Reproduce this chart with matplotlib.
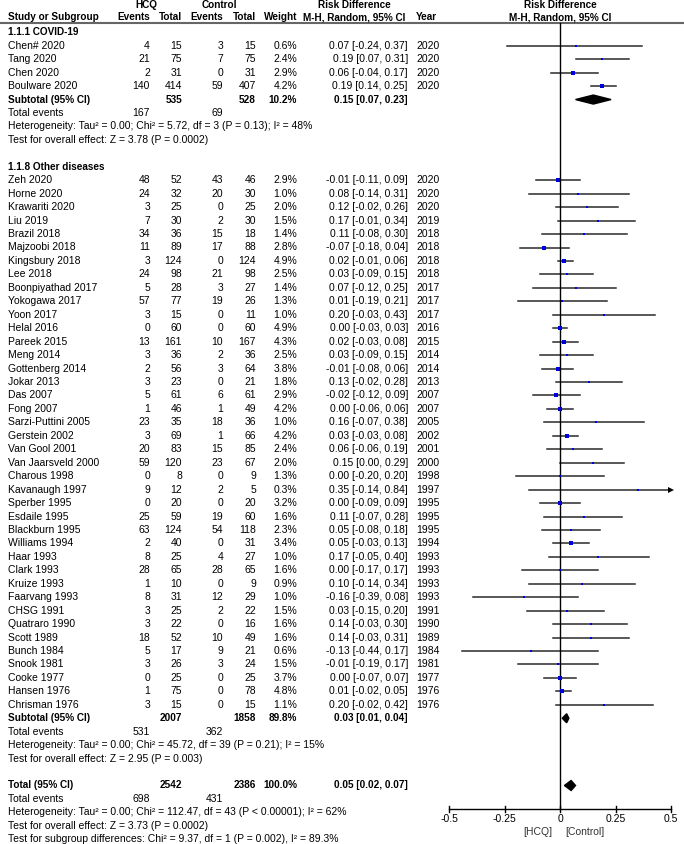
import matplotlib
matplotlib.use("Agg")
import matplotlib.pyplot as plt

plt.rcParams['font.family'] = ['Liberation Sans', 'DejaVu Sans']

# ---- data: COVID-19 subgroup
covid_names = ["Chen# 2020", "Tang 2020", "Chen 2020", "Boulware 2020"]
covid_hcq_ev = [4, 21, 2, 140]
covid_hcq_n = [15, 75, 31, 414]
covid_ctl_ev = [3, 7, 0, 59]
covid_ctl_n = [15, 75, 31, 407]
covid_weight = [0.6, 2.4, 2.9, 4.2]
covid_rd = [0.07, 0.19, 0.06, 0.19]
covid_lo = [-0.24, 0.07, -0.04, 0.14]
covid_hi = [0.37, 0.31, 0.17, 0.25]
covid_year = [2020, 2020, 2020, 2020]

# ---- data: other diseases subgroup
other_names = ["Zeh 2020", "Horne 2020", "Krawariti 2020", "Liu 2019", "Brazil 2018",
               "Majzoobi 2018", "Kingsbury 2018", "Lee 2018", "Boonpiyathad 2017",
               "Yokogawa 2017", "Yoon 2017", "Helal 2016", "Pareek 2015", "Meng 2014",
               "Gottenberg 2014", "Jokar 2013", "Das 2007", "Fong 2007",
               "Sarzi-Puttini 2005", "Gerstein 2002", "Van Gool 2001",
               "Van Jaarsveld 2000", "Charous 1998", "Kavanaugh 1997", "Sperber 1995",
               "Esdaile 1995", "Blackburn 1995", "Williams 1994", "Haar 1993",
               "Clark 1993", "Kruize 1993", "Faarvang 1993", "CHSG 1991",
               "Quatraro 1990", "Scott 1989", "Bunch 1984", "Snook 1981", "Cooke 1977",
               "Hansen 1976", "Chrisman 1976"]
other_hcq_ev = [48, 24, 3, 7, 34, 11, 3, 24, 5, 57, 3, 0, 13, 3, 2, 3, 5, 1, 23, 3, 20,
                59, 0, 9, 0, 25, 63, 2, 8, 28, 1, 8, 3, 3, 18, 5, 3, 0, 1, 3]
other_hcq_n = [52, 32, 25, 30, 36, 89, 124, 98, 28, 77, 15, 60, 161, 36, 56, 23, 61, 46,
               35, 69, 83, 120, 8, 12, 20, 59, 124, 40, 25, 65, 10, 31, 25, 22, 52, 17,
               26, 25, 75, 15]
other_ctl_ev = [43, 20, 0, 2, 15, 17, 0, 21, 3, 19, 0, 0, 10, 2, 3, 0, 6, 1, 18, 1, 15,
                23, 0, 2, 0, 19, 54, 0, 4, 28, 0, 12, 2, 0, 10, 9, 3, 0, 0, 0]
other_ctl_n = [46, 30, 25, 30, 18, 88, 124, 98, 27, 26, 11, 60, 167, 36, 64, 21, 61, 49,
               36, 66, 85, 67, 9, 5, 20, 60, 118, 31, 27, 65, 9, 29, 22, 16, 49, 21, 24,
               25, 78, 15]
other_weight = [2.9, 1.0, 2.0, 1.5, 1.4, 2.8, 4.9, 2.5, 1.4, 1.3, 1.0, 4.9, 4.3, 2.5,
                3.8, 1.8, 2.9, 4.2, 1.0, 4.2, 2.4, 2.0, 1.3, 0.3, 3.2, 1.6, 2.3, 3.4,
                1.0, 1.6, 0.9, 1.0, 1.5, 1.6, 1.6, 0.6, 1.5, 3.7, 4.8, 1.1]
other_rd = [-0.01, 0.08, 0.12, 0.17, 0.11, -0.07, 0.02, 0.03, 0.07, 0.01, 0.20, 0.00,
            0.02, 0.03, -0.01, 0.13, -0.02, 0.00, 0.16, 0.03, 0.06, 0.15, 0.00, 0.35,
            0.00, 0.11, 0.05, 0.05, 0.17, 0.00, 0.10, -0.16, 0.03, 0.14, 0.14, -0.13,
            -0.01, 0.00, 0.01, 0.20]
other_lo = [-0.11, -0.14, -0.02, -0.01, -0.08, -0.18, -0.01, -0.09, -0.12, -0.19, -0.03,
            -0.03, -0.03, -0.09, -0.08, -0.02, -0.12, -0.06, -0.07, -0.03, -0.06, 0.00,
            -0.20, -0.14, -0.09, -0.07, -0.08, -0.03, -0.05, -0.17, -0.14, -0.39, -0.15,
            -0.03, -0.03, -0.44, -0.19, -0.07, -0.02, -0.02]
other_hi = [0.09, 0.31, 0.26, 0.34, 0.30, 0.04, 0.06, 0.15, 0.25, 0.21, 0.43, 0.03, 0.08,
            0.15, 0.06, 0.28, 0.09, 0.06, 0.38, 0.08, 0.19, 0.29, 0.20, 0.84, 0.09, 0.28,
            0.18, 0.13, 0.40, 0.17, 0.34, 0.08, 0.20, 0.30, 0.31, 0.17, 0.17, 0.07, 0.05,
            0.42]
other_year = [2020, 2020, 2020, 2019, 2018, 2018, 2018, 2018, 2017, 2017, 2017, 2016,
              2015, 2014, 2014, 2013, 2007, 2007, 2005, 2002, 2001, 2000, 1998, 1997,
              1995, 1995, 1995, 1994, 1993, 1993, 1993, 1993, 1991, 1990, 1989, 1984,
              1981, 1977, 1976, 1976]

# pooled results
sub_labels = ["Subtotal (95% CI)", "Subtotal (95% CI)", "Total (95% CI)"]
sub_hcq_n = [535, 2007, 2542]
sub_ctl_n = [528, 1858, 2386]
sub_hcq_ev = [167, 531, 698]
sub_ctl_ev = [69, 362, 431]
sub_weight = [10.2, 89.8, 100.0]
sub_rd = [0.15, 0.03, 0.05]
sub_lo = [0.07, 0.01, 0.02]
sub_hi = [0.23, 0.04, 0.07]
sub_het = ["Heterogeneity: Tau\u00b2 = 0.00; Chi\u00b2 = 5.72, df = 3 (P = 0.13); I\u00b2 = 48%",
           "Heterogeneity: Tau\u00b2 = 0.00; Chi\u00b2 = 45.72, df = 39 (P = 0.21); I\u00b2 = 15%",
           "Heterogeneity: Tau\u00b2 = 0.00; Chi\u00b2 = 112.47, df = 43 (P < 0.00001); I\u00b2 = 62%"]
sub_z = ["Test for overall effect: Z = 3.78 (P = 0.0002)",
         "Test for overall effect: Z = 2.95 (P = 0.003)",
         "Test for overall effect: Z = 3.73 (P = 0.0002)"]
subgroup_test = "Test for subgroup differences: Chi\u00b2 = 9.37, df = 1 (P = 0.002), I\u00b2 = 89.3%"

xticks = [-0.5, -0.25, 0, 0.25, 0.5]
xtick_labels = ["-0.5", "-0.25", "0", "0.25", "0.5"]

# ---- layout (pixels)
W, H = 684, 844
FS = 7.5
FSB = 7.2
Y0, DY = 32.3, 13.45
X_NAME, X_HEV, X_HN, X_CEV, X_CN, X_W, X_RD, X_YR = 8, 150, 182, 223, 256, 297, 408, 416
AX_Y = 809


def row(k):
    return Y0 + DY * k


fig = plt.figure(figsize=(W / 100, H / 100), dpi=100)
tx = fig.add_axes([0, 0, 1, 1])
tx.set_xlim(0, W)
tx.set_ylim(H, 0)
tx.axis('off')

fx = fig.add_axes([449 / W, 0, 222 / W, 1])
fx.set_xlim(-0.5, 0.5)
fx.set_ylim(H, 0)
fx.axis('off')


def t(x, y, s, ha='left', bold=False):
    tx.text(x, y, s, ha=ha, va='center', fontsize=FSB if bold else FS,
            fontweight='bold' if bold else 'normal', color='black')


# headers
t(146, 5, "HCQ", 'center', True)
t(219, 5, "Control", 'center', True)
t(354, 5, "Risk Difference", 'center', True)
t(560, 5, "Risk Difference", 'center', True)
t(X_NAME, 17.5, "Study or Subgroup", bold=True)
t(X_HEV, 17.5, "Events", 'right', True)
t(X_HN, 17.5, "Total", 'right', True)
t(X_CEV, 17.5, "Events", 'right', True)
t(X_CN, 17.5, "Total", 'right', True)
t(X_W, 17.5, "Weight", 'right', True)
t(X_RD - 3, 17.5, "M-H, Random, 95% CI", 'right', True)
t(X_YR, 17.5, "Year", bold=True)
t(560, 17.5, "M-H, Random, 95% CI", 'center', True)
tx.plot([0, W], [23, 23], color='#666666', lw=1.5)


def study_rows(k0, names, hev, hn, cev, cn, w, rd, lo, hi, yr):
    for i in range(len(names)):
        y = row(k0 + i)
        t(X_NAME, y, names[i])
        t(X_HEV, y, str(hev[i]), 'right')
        t(X_HN, y, str(hn[i]), 'right')
        t(X_CEV, y, str(cev[i]), 'right')
        t(X_CN, y, str(cn[i]), 'right')
        t(X_W, y, f"{w[i]:.1f}%", 'right')
        t(X_RD, y, f"{rd[i]:.2f} [{lo[i]:.2f}, {hi[i]:.2f}]", 'right')
        t(X_YR, y, str(yr[i]))
        right = min(hi[i], 0.5)
        fx.plot([lo[i], right], [y, y], color='#2a2a2a', lw=1.1, clip_on=False)
        if hi[i] > 0.5:
            fx.plot([0.5], [y], marker='>', ms=4, color='black', mew=0, clip_on=False)
        fx.plot([rd[i]], [y], marker='s', ms=1.2 + 0.6 * w[i] ** 0.5,
                color='#0000dd', mew=0, clip_on=False, zorder=5)


def pooled(k, j):
    y = row(k)
    t(X_NAME, y, sub_labels[j], bold=True)
    t(X_HN, y, str(sub_hcq_n[j]), 'right', True)
    t(X_CN, y, str(sub_ctl_n[j]), 'right', True)
    t(X_W, y, f"{sub_weight[j]:.1f}%", 'right', True)
    t(X_RD, y, f"{sub_rd[j]:.2f} [{sub_lo[j]:.2f}, {sub_hi[j]:.2f}]", 'right', True)
    h = 4.5 if j < 2 else 5
    fx.fill([sub_lo[j], sub_rd[j], sub_hi[j], sub_rd[j]], [y, y - h, y, y + h],
            color='black', clip_on=False, zorder=6)
    t(X_NAME, row(k + 1), "Total events")
    t(X_HEV, row(k + 1), str(sub_hcq_ev[j]), 'right')
    t(X_CEV, row(k + 1), str(sub_ctl_ev[j]), 'right')
    t(X_NAME, row(k + 2), sub_het[j])
    t(X_NAME, row(k + 3), sub_z[j])


t(X_NAME, row(0), "1.1.1 COVID-19", bold=True)
study_rows(1, covid_names, covid_hcq_ev, covid_hcq_n, covid_ctl_ev, covid_ctl_n,
           covid_weight, covid_rd, covid_lo, covid_hi, covid_year)
pooled(5, 0)

t(X_NAME, row(10), "1.1.8 Other diseases", bold=True)
study_rows(11, other_names, other_hcq_ev, other_hcq_n, other_ctl_ev, other_ctl_n,
           other_weight, other_rd, other_lo, other_hi, other_year)
k_sub = 11 + len(other_names)
pooled(k_sub, 1)
pooled(k_sub + 5, 2)
t(X_NAME, row(k_sub + 9), subgroup_test)

# zero line and axis
fx.plot([0, 0], [23, AX_Y], color='black', lw=1, clip_on=False)
fx.plot([xticks[0], xticks[-1]], [AX_Y, AX_Y], color='black', lw=1, clip_on=False)
for v, lab in zip(xticks, xtick_labels):
    fx.plot([v, v], [AX_Y - 3, AX_Y + 3], color='black', lw=1, clip_on=False)
    fx.text(v, AX_Y + 10, lab, ha='center', va='center', fontsize=FS)
fx.text(-0.035, AX_Y + 23, "[HCQ]", ha='right', va='center', fontsize=FS, color='#333333')
fx.text(0.025, AX_Y + 23, "[Control]", ha='left', va='center', fontsize=FS, color='#333333')

fig.savefig("out.png", dpi=100)
